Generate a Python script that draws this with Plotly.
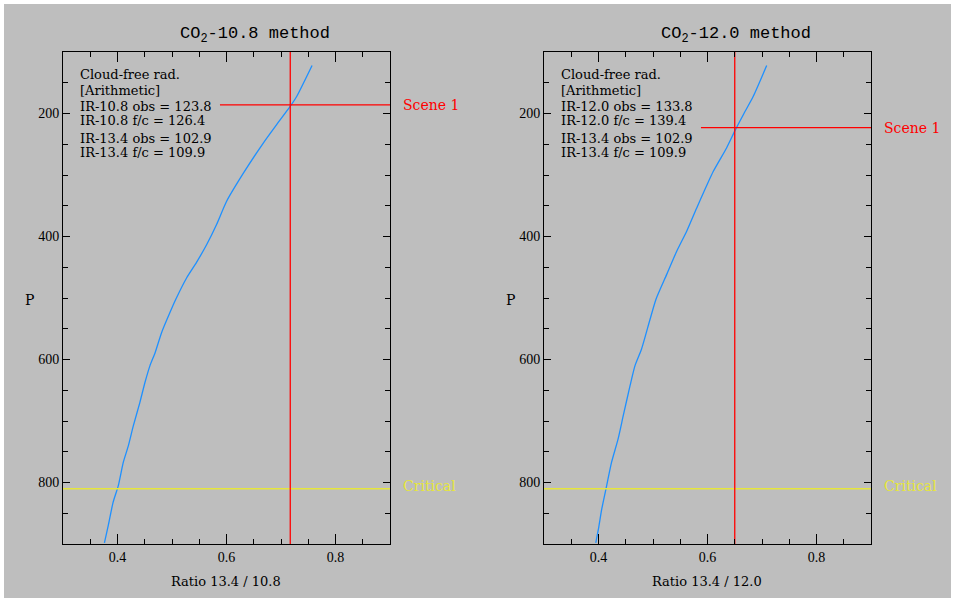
import plotly.graph_objects as go

# ---------------- data ----------------
titles = ["CO<sub>2</sub>-10.8 method", "CO<sub>2</sub>-12.0 method"]
xlabels = ["Ratio 13.4 / 10.8", "Ratio 13.4 / 12.0"]

# CO2-10.8 curve (ratio vs pressure)
ratio_108 = [0.757, 0.729, 0.7165, 0.692, 0.6675, 0.631, 0.600, 0.582, 0.5637, 0.545,
             0.527, 0.507, 0.496, 0.481, 0.469, 0.4596, 0.4505, 0.441, 0.429, 0.420,
             0.4107, 0.4015, 0.392, 0.383, 0.376]
pres_108 = [122, 172, 189, 218, 248, 297, 343, 380, 413, 442,
            467, 502, 524, 556, 589, 610, 637, 670, 708, 740,
            767, 805, 832, 870, 898]

# CO2-12.0 curve
ratio_120 = [0.7086, 0.684, 0.6657, 0.652, 0.635, 0.6107, 0.580, 0.562, 0.5435, 0.525,
             0.5055, 0.4945, 0.479, 0.467, 0.4578, 0.4455, 0.436, 0.424, 0.415, 0.406,
             0.400, 0.395]
pres_120 = [122, 172, 202, 225, 256, 294, 354, 391, 424, 462,
            502, 535, 583, 610, 643, 691, 729, 767, 805, 843,
            875, 898]

scene_ratio = [0.717, 0.650]
scene_pressure = [186, 223]
scene_line_start = [0.588, 0.588]
critical_pressure = 810

info_lines = [
    ["Cloud-free rad.", "[Arithmetic]", "IR-10.8 obs = 123.8", "IR-10.8 f/c = 126.4",
     "IR-13.4 obs = 102.9", "IR-13.4 f/c = 109.9"],
    ["Cloud-free rad.", "[Arithmetic]", "IR-12.0 obs = 133.8", "IR-12.0 f/c = 139.4",
     "IR-13.4 obs = 102.9", "IR-13.4 f/c = 109.9"],
]
info_y = [137, 162, 188, 212, 240, 263]

x_range = [0.3, 0.9]
y_range = [900, 100]
x_ticks = [0.4, 0.6, 0.8]
y_ticks = [200, 400, 600, 800]

# ---------------- style ----------------
W, H = 955, 602
GRAY = "#bebebe"
BLUE = "#1e90ff"
RED = "#ff0000"
YELLOW = "#e6e63c"
FONT = "Liberation Serif"
TFONT = "DejaVu Serif"

x_domains = [[63 / W, 390 / W], [544 / W, 871 / W]]
y_domain = [1 - 544 / H, 1 - 52 / H]

fig = go.Figure()
curves = [(ratio_108, pres_108), (ratio_120, pres_120)]

for i in range(2):
    xa = "x" if i == 0 else "x2"
    ya = "y" if i == 0 else "y2"
    rx, py = curves[i]
    fig.add_trace(go.Scatter(x=rx, y=py, mode="lines", xaxis=xa, yaxis=ya,
                             line=dict(color=BLUE, width=1.3, shape="spline", smoothing=0.6),
                             showlegend=False, hoverinfo="skip"))
    fig.add_trace(go.Scatter(x=x_range, y=[critical_pressure, critical_pressure],
                             mode="lines", xaxis=xa, yaxis=ya,
                             line=dict(color=YELLOW, width=1.5), showlegend=False,
                             hoverinfo="skip"))
    fig.add_trace(go.Scatter(x=[scene_ratio[i], scene_ratio[i]], y=y_range,
                             mode="lines", xaxis=xa, yaxis=ya,
                             line=dict(color=RED, width=1.3), showlegend=False,
                             hoverinfo="skip"))
    fig.add_trace(go.Scatter(x=[scene_line_start[i], x_range[1]],
                             y=[scene_pressure[i], scene_pressure[i]],
                             mode="lines", xaxis=xa, yaxis=ya,
                             line=dict(color=RED, width=1.3), showlegend=False,
                             hoverinfo="skip"))

axis_common = dict(showline=True, linecolor="black", linewidth=1, mirror="ticks",
                   ticks="inside", tickwidth=1, tickcolor="black", showgrid=False,
                   zeroline=False, tickfont=dict(family=FONT, size=14, color="black"))

layout = dict(width=W, height=H, margin=dict(l=0, r=0, t=0, b=0),
              paper_bgcolor="white", plot_bgcolor=GRAY, showlegend=False)

for i in range(2):
    sfx = "" if i == 0 else "2"
    layout["xaxis" + sfx] = dict(axis_common, domain=x_domains[i], range=x_range,
                                 tickvals=x_ticks, ticklen=10,
                                 anchor="y" + sfx,
                                 minor=dict(ticks="inside", ticklen=5, dtick=0.05,
                                            tick0=0.3, tickcolor="black", showgrid=False))
    layout["yaxis" + sfx] = dict(axis_common, domain=y_domain, range=y_range,
                                 tickvals=y_ticks, ticklen=7,
                                 anchor="x" + sfx,
                                 minor=dict(ticks="inside", ticklen=5, dtick=50,
                                            tick0=100, tickcolor="black", showgrid=False))

fig.update_layout(**layout)

fig.add_shape(type="rect", xref="paper", yref="paper", x0=4 / W, x1=951 / W,
              y0=4 / H, y1=1 - 4 / H, fillcolor=GRAY, line=dict(width=0), layer="below")

title_cx = [255, 736]
xlabel_cx = [226, 707]
p_cx = [29, 510]
for i in range(2):
    sfx = "" if i == 0 else "2"
    fig.add_annotation(text=titles[i], x=title_cx[i] / W, y=1 - 35 / H, xref="paper",
                       yref="paper", showarrow=False, xanchor="center", yanchor="middle",
                       font=dict(family="Liberation Mono", size=17, color="black"))
    fig.add_annotation(text=xlabels[i], x=xlabel_cx[i] / W, y=1 - 581 / H, xref="paper",
                       yref="paper", showarrow=False, xanchor="center", yanchor="middle",
                       font=dict(family=TFONT, size=13, color="black"))
    fig.add_annotation(text="P", x=p_cx[i] / W, y=1 - 300 / H, xref="paper",
                       yref="paper", showarrow=False, xanchor="center", yanchor="middle",
                       font=dict(family=TFONT, size=14, color="black"))
    for t, yy in zip(info_lines[i], info_y):
        fig.add_annotation(text=t, x=0.327, y=yy, xref="x" + sfx, yref="y" + sfx,
                           showarrow=False, xanchor="left", yanchor="middle",
                           font=dict(family=TFONT, size=13, color="black"))
    fig.add_annotation(text="Scene 1", x=1.035, y=scene_pressure[i],
                       xref="x" + sfx + " domain", yref="y" + sfx, showarrow=False,
                       xanchor="left", yanchor="middle",
                       font=dict(family=TFONT, size=14, color=RED))
    fig.add_annotation(text="Critical", x=1.035, y=critical_pressure - 4,
                       xref="x" + sfx + " domain", yref="y" + sfx, showarrow=False,
                       xanchor="left", yanchor="middle",
                       font=dict(family=TFONT, size=14, color=YELLOW))

fig.write_html("out.html")
